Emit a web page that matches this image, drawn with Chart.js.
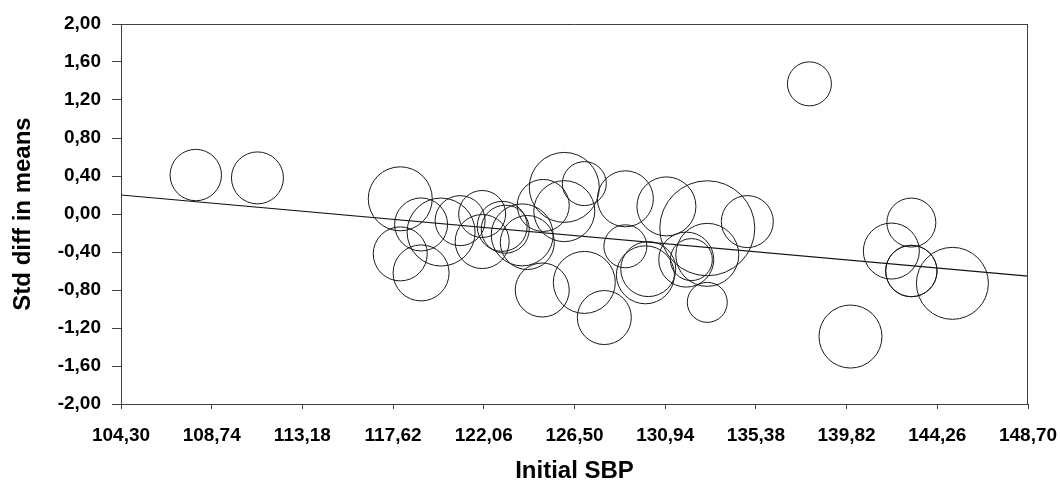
<!DOCTYPE html>
<html>
<head>
<meta charset="utf-8">
<script src="https://cdn.jsdelivr.net/npm/chart.js@4/dist/chart.umd.min.js"></script>
<style>
  html, body { margin: 0; padding: 0; background: #fff; }
  #wrap { width: 1060px; height: 483px; }
</style>
</head>
<body>
<div id="wrap"><canvas id="chart" width="1060" height="483"></canvas></div>
<script>
// study-level values
const sbp = [107.96, 110.98, 117.97, 118.99, 119.97, 117.97, 118.99, 120.90, 121.98, 121.98,
  122.96, 123.11, 123.94, 124.19, 124.97, 126.00, 126.98, 126.00, 128.99, 131.00,
  133.00, 134.96, 128.99, 130.11, 129.97, 131.97, 132.22, 133.00, 133.00, 124.92,
  126.98, 127.96, 138.00, 142.99, 142.01, 142.99, 142.99, 145.00, 140.01];
const stdDiff = [0.41, 0.38, 0.16, -0.11, -0.19, -0.42, -0.62, -0.07, 0.00, -0.29,
  -0.13, -0.16, -0.22, -0.30, 0.09, 0.28, 0.32, 0.03, 0.16, 0.08,
  -0.15, -0.08, -0.34, -0.58, -0.64, -0.48, -0.48, -0.43, -0.93, -0.80,
  -0.72, -1.09, 1.37, -0.09, -0.39, -0.60, -0.60, -0.73, -1.29];
const weights = [25.7, 26, 32, 26.5, 34, 27, 28, 25, 23.5, 27,
  25, 24, 31, 27, 26, 35, 22, 30.5, 28, 29.5,
  47.5, 26, 21.5, 27.5, 29, 27.5, 21, 31.5, 20, 27,
  31, 27, 22, 24.5, 28, 25.7, 25.7, 36, 31.5];

// fitted regression line ends
const regX = [104.30, 148.70];
const regY = [0.20, -0.655];

const xTicks = [104.30, 108.74, 113.18, 117.62, 122.06, 126.50, 130.94, 135.38, 139.82, 144.26, 148.70];
const yTicks = [-2.00, -1.60, -1.20, -0.80, -0.40, 0.00, 0.40, 0.80, 1.20, 1.60, 2.00];

const fmt = v => Number(v).toFixed(2).replace('.', ',').replace('-0,00', '0,00');
const FONT = 'Arial, "Liberation Sans", sans-serif';
const AXIS = '#404040';

const frame = {
  id: 'frame',
  afterDraw(chart) {
    const { ctx, chartArea: a } = chart;
    ctx.save();
    ctx.strokeStyle = AXIS;
    ctx.lineWidth = 1;
    ctx.beginPath();
    ctx.moveTo(a.left, a.top + 0.5);
    ctx.lineTo(a.right, a.top + 0.5);
    ctx.moveTo(a.right - 0.5, a.top);
    ctx.lineTo(a.right - 0.5, a.bottom);
    ctx.stroke();
    ctx.restore();
  }
};

new Chart(document.getElementById('chart'), {
  data: {
    datasets: [
      {
        type: 'bubble',
        data: sbp.map((x, i) => ({ x, y: stdDiff[i], r: weights[i] })),
        backgroundColor: 'rgba(0,0,0,0)',
        borderColor: '#1a1a1a',
        borderWidth: 1,
        hoverRadius: 0,
        clip: false
      },
      {
        type: 'line',
        data: regX.map((x, i) => ({ x, y: regY[i] })),
        borderColor: '#111',
        borderWidth: 1.2,
        pointRadius: 0,
        fill: false
      }
    ]
  },
  options: {
    responsive: false,
    animation: false,
    events: [],
    layout: { autoPadding: false, padding: { left: 0, top: 24, right: 32, bottom: 0 } },
    plugins: { legend: { display: false }, tooltip: { enabled: false } },
    scales: {
      x: {
        type: 'linear',
        min: 104.30,
        max: 148.70,
        afterBuildTicks: s => { s.ticks = xTicks.map(v => ({ value: v })); },
        afterFit: s => { s.height = 79; s.paddingLeft = 0; s.paddingRight = 0; },
        grid: { drawOnChartArea: false, drawTicks: true, tickLength: 5, color: AXIS },
        border: { display: true, color: AXIS, width: 1 },
        ticks: {
          color: '#000',
          padding: 15,
          maxRotation: 0,
          autoSkip: false,
          font: { family: FONT, size: 19, weight: 'bold' },
          callback: v => fmt(v)
        },
        title: {
          display: true,
          text: 'Initial SBP',
          color: '#000',
          padding: { top: 0, bottom: 0 },
          font: { family: FONT, size: 24, weight: 'bold', lineHeight: 1 }
        }
      },
      y: {
        type: 'linear',
        min: -2,
        max: 2,
        afterBuildTicks: s => { s.ticks = yTicks.map(v => ({ value: v })); },
        afterFit: s => { s.width = 121; s.paddingTop = 0; s.paddingBottom = 0; },
        grid: { drawOnChartArea: false, drawTicks: true, tickLength: 9, color: AXIS },
        border: { display: true, color: AXIS, width: 1 },
        ticks: {
          color: '#000',
          padding: 11,
          autoSkip: false,
          font: { family: FONT, size: 19, weight: 'bold' },
          callback: v => fmt(v)
        },
        title: {
          display: true,
          text: 'Std diff in means',
          color: '#000',
          padding: { top: 11, bottom: 0 },
          font: { family: FONT, size: 24, weight: 'bold', lineHeight: 1 }
        }
      }
    }
  },
  plugins: [frame]
});
</script>
</body>
</html>
